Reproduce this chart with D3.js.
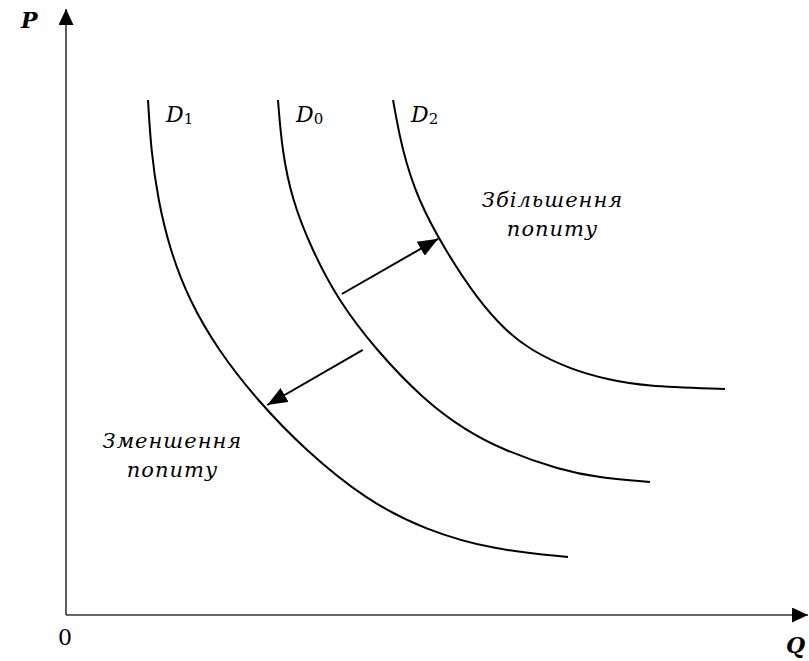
<!DOCTYPE html>
<html>
<head>
<meta charset="utf-8">
<script src="https://cdn.jsdelivr.net/npm/d3@7"></script>
<style>
  body { margin: 0; background: #fff; }
  svg { display: block; }
  text { font-family: "DejaVu Serif", serif; fill: #000; }
</style>
</head>
<body>
<svg id="chart" width="809" height="661"></svg>
<script>
// demand curves (Q, P)
var d1Points = [[11.33,85.83],[11.74,77.5],[12.71,69.17],[14.36,60.83],[16.99,52.5],[20.99,44.17],[26.38,35.83],[33.01,27.5],[41.44,19.17],[49.59,14.17],[59.12,10.83],[69.34,9.67]];
var d0Points = [[29.28,85.83],[29.83,77.5],[31.22,69.17],[33.98,60.83],[37.57,52.5],[42.82,44.17],[49.45,35.83],[55.11,30.83],[60.36,27.5],[68.23,24.17],[73.76,22.83],[80.66,22.17]];
var d2Points = [[45.17,85.83],[46.41,77.5],[48.62,69.17],[52.35,60.83],[56.91,52.5],[60.64,47.5],[64.09,44.17],[69.89,40.83],[75.14,39.17],[79.56,38.17],[91.02,37.67]];

var curveNames = ["1", "0", "2"];
var curves = [d1Points, d0Points, d2Points];

// shift arrows: [from, to]
var shiftArrows = [
	[[38.1,53.5],[51.4,62.7]],
	[[41.0,44.2],[27.8,35.0]]
];
var shiftLabels = [
	{ lines: ["Збільшення", "попиту"], q: 67.2, p: 68.0 },
	{ lines: ["Зменшення", "попиту"], q: 14.7, p: 27.8 }
];

var svg = d3.select("#chart");

let x = d3.scaleLinear().domain([0, 100]).range([66, 790]);
let y = d3.scaleLinear().domain([0, 100]).range([615, 15]);

let defs = svg.append("defs");
function addMarker(id, len, wid, color) {
	defs.append("marker")
		.attr("id", id)
		.attr("viewBox", `0 ${-wid / 2} ${len} ${wid}`)
		.attr("refX", len)
		.attr("refY", 0)
		.attr("markerUnits", "userSpaceOnUse")
		.attr("markerWidth", len)
		.attr("markerHeight", wid)
		.attr("orient", "auto")
		.append("path")
		.attr("d", `M0,${-wid / 2} L${len},0 L0,${wid / 2} Z`)
		.attr("fill", color);
}
addMarker("axisHead", 16, 15, "#000");
addMarker("shiftHead", 20, 16, "#000");

// axes
svg.append("line")
	.attr("x1", x(0)).attr("y1", y(0))
	.attr("x2", x(0)).attr("y2", 9)
	.attr("stroke", "#333").attr("stroke-width", 1.6)
	.attr("marker-end", "url(#axisHead)");
svg.append("line")
	.attr("x1", x(0)).attr("y1", y(0))
	.attr("x2", 808).attr("y2", y(0))
	.attr("stroke", "#333").attr("stroke-width", 1.6)
	.attr("marker-end", "url(#axisHead)");

svg.append("text").attr("x", 21).attr("y", 28)
	.attr("font-size", 22).attr("font-weight", "bold").attr("font-style", "italic")
	.text("P");
svg.append("text").attr("x", 786).attr("y", 653)
	.attr("font-size", 22).attr("font-weight", "bold").attr("font-style", "italic")
	.text("Q");
svg.append("text").attr("x", 58).attr("y", 645)
	.attr("font-size", 22)
	.text("0");

// curves
let line = d3.line()
	.x(d => x(d[0]))
	.y(d => y(d[1]))
	.curve(d3.curveBasis);

svg.selectAll(".demand")
	.data(curves)
	.join("path")
	.attr("class", "demand")
	.attr("d", line)
	.attr("fill", "none")
	.attr("stroke", "#000")
	.attr("stroke-width", 2);

// curve labels
let lbl = svg.selectAll(".dlabel")
	.data(curves)
	.join("text")
	.attr("class", "dlabel")
	.attr("x", d => x(d[0][0]) + 18)
	.attr("y", 122)
	.attr("font-size", 22)
	.attr("font-style", "italic");
lbl.append("tspan").text("D");
lbl.append("tspan")
	.attr("font-size", 15)
	.attr("font-style", "normal")
	.attr("dy", 2)
	.text((d, i) => curveNames[i]);

// shift arrows
svg.selectAll(".shift")
	.data(shiftArrows)
	.join("line")
	.attr("class", "shift")
	.attr("x1", d => x(d[0][0]))
	.attr("y1", d => y(d[0][1]))
	.attr("x2", d => x(d[1][0]))
	.attr("y2", d => y(d[1][1]))
	.attr("stroke", "#000")
	.attr("stroke-width", 2)
	.attr("marker-end", "url(#shiftHead)");

// shift labels
for (let s of shiftLabels) {
	let t = svg.append("text")
		.attr("text-anchor", "middle")
		.attr("font-size", 21)
		.attr("letter-spacing", 1)
		.attr("font-style", "italic");
	s.lines.forEach(function (ln, i) {
		t.append("tspan")
			.attr("x", x(s.q))
			.attr("y", y(s.p) + i * 29)
			.text(ln);
	});
}
</script>
</body>
</html>
